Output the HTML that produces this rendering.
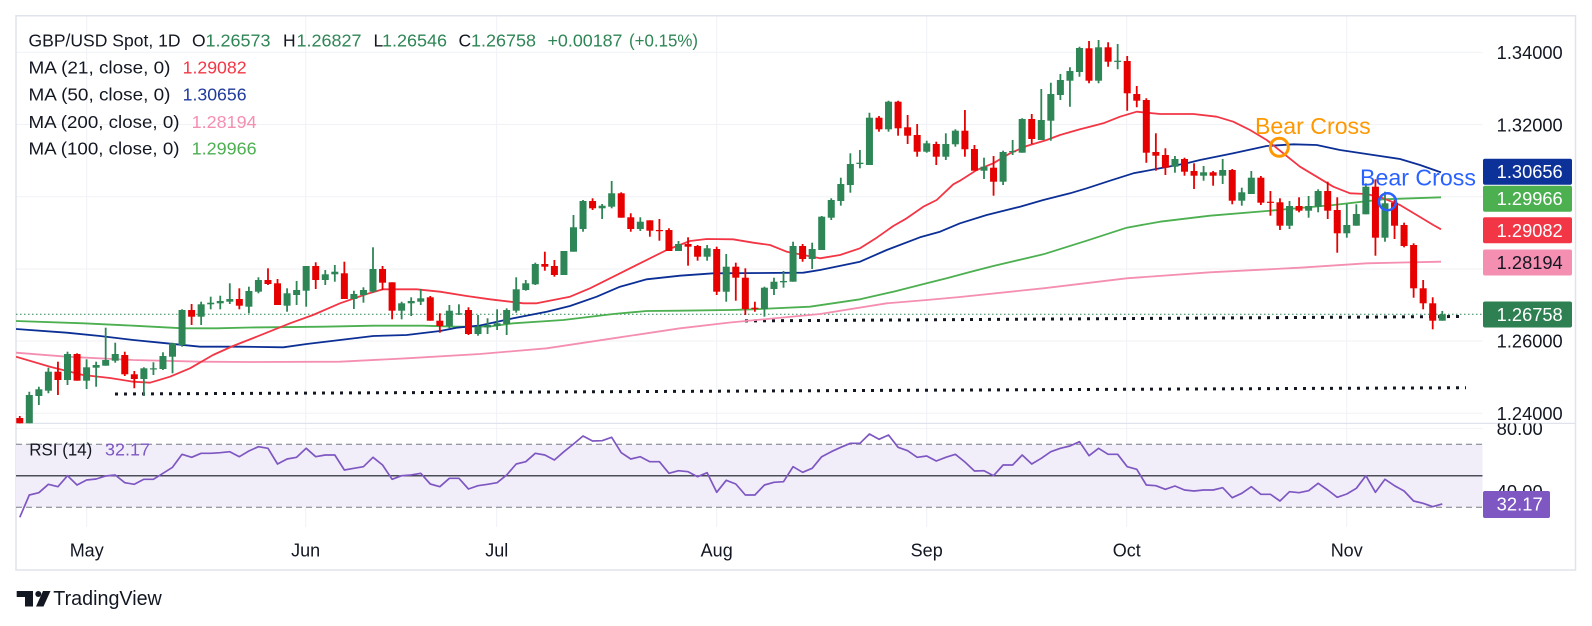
<!DOCTYPE html>
<html><head><meta charset="utf-8"><style>
html,body{margin:0;padding:0;background:#fff;}
svg{display:block;font-family:"Liberation Sans",Arial,sans-serif;}
</style></head><body>
<svg id="s" xmlns="http://www.w3.org/2000/svg" width="1592" height="626" viewBox="0 0 1592 626">
<defs>
<clipPath id="cp"><rect x="16" y="16" width="1466.5" height="407.3"/></clipPath>
<clipPath id="cr"><rect x="16" y="423.5" width="1466.5" height="103.5"/></clipPath>
<clipPath id="ca"><rect x="1483" y="423.5" width="92" height="103.5"/></clipPath>
</defs>
<rect x="0" y="0" width="1592" height="626" fill="#fff"/>
<!-- grid -->
<g stroke="#f0f2f6" stroke-width="1">
<line x1="16" x2="1482.5" y1="52.2" y2="52.2"/>
<line x1="16" x2="1482.5" y1="124.5" y2="124.5"/>
<line x1="16" x2="1482.5" y1="196.7" y2="196.7"/>
<line x1="16" x2="1482.5" y1="269" y2="269"/>
<line x1="16" x2="1482.5" y1="341" y2="341"/>
<line x1="16" x2="1482.5" y1="413.3" y2="413.3"/>
<line x1="16" x2="1482.5" y1="428.6" y2="428.6"/>
<line x1="16" x2="1482.5" y1="491.6" y2="491.6"/>
<line x1="86.7" x2="86.7" y1="16" y2="527"/>
<line x1="305.7" x2="305.7" y1="16" y2="527"/>
<line x1="496.7" x2="496.7" y1="16" y2="527"/>
<line x1="716.7" x2="716.7" y1="16" y2="527"/>
<line x1="926.7" x2="926.7" y1="16" y2="527"/>
<line x1="1126.7" x2="1126.7" y1="16" y2="527"/>
<line x1="1346.7" x2="1346.7" y1="16" y2="527"/>
</g>
<!-- frame -->
<rect x="16" y="15.75" width="1559.5" height="554.25" fill="none" stroke="#e0e3eb" stroke-width="1.5"/>
<line x1="16" x2="1576" y1="423.4" y2="423.4" stroke="#e0e3eb" stroke-width="1.2"/>

<!-- price pane -->
<g clip-path="url(#cp)">
<line x1="16" x2="1482" y1="314.3" y2="314.3" stroke="#2e8555" stroke-width="1" stroke-dasharray="1.5 2.5"/>
<line x1="115" y1="394" x2="1466" y2="387.7" stroke="#131722" stroke-width="3" stroke-dasharray="3 6"/>
<line x1="745" y1="320.9" x2="1460" y2="316.5" stroke="#131722" stroke-width="3" stroke-dasharray="3 6"/>
<g id="ma" fill="none" stroke-width="1.8" stroke-linejoin="round"></g>
<g id="candles"></g>
<circle cx="1279.3" cy="147.3" r="9" fill="none" stroke="#ff9800" stroke-width="3"/>
<circle cx="1387.5" cy="201.7" r="8.5" fill="none" stroke="#2962ff" stroke-width="2.5"/>
</g>
<text x="1255" y="134" font-size="23" fill="#ff9800" textLength="115.7" lengthAdjust="spacingAndGlyphs">Bear Cross</text>
<text x="1360" y="185.7" font-size="23" fill="#2962ff" textLength="116" lengthAdjust="spacingAndGlyphs">Bear Cross</text>

<!-- RSI pane -->
<g clip-path="url(#cr)">
<rect x="16" y="444.3" width="1466.5" height="63" fill="#f2eef9"/>
<line x1="16" x2="1482.5" y1="444.3" y2="444.3" stroke="#787b86" stroke-width="1" stroke-dasharray="6 4"/>
<line x1="16" x2="1482.5" y1="507.3" y2="507.3" stroke="#787b86" stroke-width="1" stroke-dasharray="6 4"/>
<line x1="16" x2="1482.5" y1="475.8" y2="475.8" stroke="#131722" stroke-width="1.2"/>
<polyline id="rsi" fill="none" stroke="#7e57c2" stroke-width="1.7" stroke-linejoin="round"/>
</g>

<!-- legend -->
<g font-size="17.5" fill="#131722">
<text x="28.5" y="46.6" textLength="152" lengthAdjust="spacingAndGlyphs">GBP/USD Spot, 1D</text>
<text x="192" y="46.6">O</text>
<text x="205.5" y="46.6" fill="#2e8555" textLength="65" lengthAdjust="spacingAndGlyphs">1.26573</text>
<text x="283" y="46.6">H</text>
<text x="296.5" y="46.6" fill="#2e8555" textLength="65" lengthAdjust="spacingAndGlyphs">1.26827</text>
<text x="373.5" y="46.6">L</text>
<text x="382" y="46.6" fill="#2e8555" textLength="65" lengthAdjust="spacingAndGlyphs">1.26546</text>
<text x="458.5" y="46.6">C</text>
<text x="471" y="46.6" fill="#2e8555" textLength="65" lengthAdjust="spacingAndGlyphs">1.26758</text>
<text x="547.5" y="46.6" fill="#2e8555" textLength="75" lengthAdjust="spacingAndGlyphs">+0.00187</text>
<text x="629" y="46.6" fill="#2e8555" textLength="69" lengthAdjust="spacingAndGlyphs">(+0.15%)</text>

<text x="28.5" y="73.6" textLength="142" lengthAdjust="spacingAndGlyphs">MA (21, close, 0)</text>
<text x="182.6" y="73.6" fill="#f23645" textLength="64" lengthAdjust="spacingAndGlyphs">1.29082</text>
<text x="28.5" y="100.6" textLength="142" lengthAdjust="spacingAndGlyphs">MA (50, close, 0)</text>
<text x="182.6" y="100.6" fill="#1e3a9c" textLength="64" lengthAdjust="spacingAndGlyphs">1.30656</text>
<text x="28.5" y="128" textLength="151" lengthAdjust="spacingAndGlyphs">MA (200, close, 0)</text>
<text x="191.7" y="128" fill="#f48fb1" textLength="65" lengthAdjust="spacingAndGlyphs">1.28194</text>
<text x="28.5" y="154.6" textLength="151" lengthAdjust="spacingAndGlyphs">MA (100, close, 0)</text>
<text x="191.7" y="154.6" fill="#4caf50" textLength="65" lengthAdjust="spacingAndGlyphs">1.29966</text>

<text x="29.3" y="455.6" textLength="63" lengthAdjust="spacingAndGlyphs">RSI (14)</text>
<text x="105" y="455.6" fill="#7e57c2" textLength="45" lengthAdjust="spacingAndGlyphs">32.17</text>
</g>

<!-- price axis -->
<g font-size="18" fill="#131722">
<text x="1496.7" y="59.2" textLength="66" lengthAdjust="spacingAndGlyphs">1.34000</text>
<text x="1496.7" y="131.3" textLength="66" lengthAdjust="spacingAndGlyphs">1.32000</text>
<text x="1496.7" y="347.5" textLength="66" lengthAdjust="spacingAndGlyphs">1.26000</text>
<text x="1496.7" y="419.8" textLength="66" lengthAdjust="spacingAndGlyphs">1.24000</text>
<g clip-path="url(#ca)">
<text x="1496.7" y="435" textLength="46" lengthAdjust="spacingAndGlyphs">80.00</text>
<text x="1496.7" y="498" textLength="46" lengthAdjust="spacingAndGlyphs">40.00</text>
</g>
</g>
<g font-size="18">
<rect x="1483" y="158.7" width="89" height="26" rx="2" fill="#0c3299"/>
<text x="1496.7" y="178.2" fill="#fff" textLength="66" lengthAdjust="spacingAndGlyphs">1.30656</text>
<rect x="1483" y="185.7" width="89" height="26" rx="2" fill="#4caf50"/>
<text x="1496.7" y="205.2" fill="#fff" textLength="66" lengthAdjust="spacingAndGlyphs">1.29966</text>
<rect x="1483" y="217.3" width="89" height="26" rx="2" fill="#f23645"/>
<text x="1496.7" y="236.8" fill="#fff" textLength="66" lengthAdjust="spacingAndGlyphs">1.29082</text>
<rect x="1483" y="249.5" width="89" height="26" rx="2" fill="#f48fb1"/>
<text x="1496.7" y="269" fill="#131722" textLength="66" lengthAdjust="spacingAndGlyphs">1.28194</text>
<rect x="1483" y="301.5" width="89" height="26" rx="2" fill="#2e7f52"/>
<text x="1496.7" y="321" fill="#fff" textLength="66" lengthAdjust="spacingAndGlyphs">1.26758</text>
<rect x="1483" y="491" width="67" height="27" rx="2" fill="#7e57c2"/>
<text x="1496.7" y="510.7" fill="#fff" textLength="46" lengthAdjust="spacingAndGlyphs">32.17</text>
</g>

<!-- time axis -->
<g font-size="18" fill="#131722" text-anchor="middle">
<text x="86.7" y="556.5">May</text>
<text x="305.7" y="556.5">Jun</text>
<text x="496.7" y="556.5">Jul</text>
<text x="716.7" y="556.5">Aug</text>
<text x="926.7" y="556.5">Sep</text>
<text x="1126.7" y="556.5">Oct</text>
<text x="1346.7" y="556.5">Nov</text>
</g>

<!-- logo -->
<g fill="#131722">
<rect x="16.7" y="591" width="16.3" height="6"/>
<rect x="25" y="591" width="8" height="15.5"/>
<circle cx="38.3" cy="594" r="3"/>
<polygon points="43,591 50.5,591 43.5,606.5 36,606.5"/>
</g>
<text x="53.3" y="605" font-size="20" fill="#131722" textLength="108.5" lengthAdjust="spacingAndGlyphs">TradingView</text>
</svg>
<script>
(function(){
var NS="http://www.w3.org/2000/svg";
var D=[
[418,416,440,425],[430,391.7,440,395],[396,386.7,405,389.3],[390.7,367.7,393.3,371.7],[371.7,361.7,395,380],
[380,351.7,385,354],[354,353.3,380.7,380.7],[380.7,359.3,389,367.3],[367.7,361.7,386.7,365],[365.7,327.7,365.7,360],
[360.7,342.7,362.7,354],[355,351.7,376,374.3],[374.3,371,388.3,379],[379,367.3,396,368.3],[369.3,362.3,375,368.3],
[369,352.3,370,356],[356.7,342.7,373.3,343.3],[345,309.3,346.7,310],[310,304,325,316.7],[316.7,301.7,325,304.3],
[304.3,296.7,309.3,302.7],[303.3,295.7,309.3,301],[301.7,283.3,304,299],[299,288.3,309.3,305.7],[306.7,286.7,313.3,291],
[291.7,277.3,293.3,280],[280,268.3,285,284],[283.3,279,305,305],[305.7,288.3,311.7,293.3],[295,281,305,290],
[290.7,266,306.7,266],[266,262.3,289,280],[280,270,285,274.3],[274.3,265,281.7,271.7],[273.3,261.7,299,299],
[299,290.7,309,294],[295,287.3,302.7,290],[291.7,247.3,292.7,269],[269,266,290,282.7],[282.3,282.3,319.3,310.7],
[310.7,301.7,319.3,303.3],[303.3,297.3,316,301],[301.7,289,305,298.3],[297.3,296,320.7,320.7],[320.7,313.3,332.7,326],
[326,305,328.3,310.7],[314,304.3,315,313.3],[310,307.3,335,334],[334,315,335.7,326.7],[327.3,318.3,334,325],
[326,309.3,330,323.3],[324,308.3,335,310],[310.7,277.3,312.7,289.3],[290,280,290.7,283.3],[284.3,262.7,285,264],
[264,251.7,270.7,266.7],[266,260,276.7,275],[275,251,275,251],[251.7,215,251.7,227.3],[229,200,231.7,201],
[201,198.3,210,208.3],[208.3,204,219,205.7],[206.7,181,208.3,193.3],[193.3,192.3,217.7,217.7],[217.3,213.3,231.7,229],
[229,217.3,231,221.7],[220.3,220.3,236.7,230.7],[230,219,240.7,230.7],[230,228.3,251,251],[251,241,251,244],
[244,237.3,265.7,246.7],[246,245,260.7,256.7],[256.7,245,260.7,248.3],[249,246.7,295,291.7],[291.7,254,301.7,266.7],
[266.7,262.7,300.7,277.7],[277.7,268.3,315,309],[307.7,301.7,311.7,308.7],[309,286.7,316.7,287.7],[289,277.7,295,281.7],
[282.3,271,287.7,281],[281.7,241.7,281.7,246],[246,244,261.7,259],[259,242.7,269,249],[250,216,250,216.7],
[217.7,198.3,220,200],[201,177.7,205.7,184],[185,153.3,192.7,164],[164,150,168.3,162.7],[165,112.7,165,117.7],
[117.7,116,131.7,129.3],[129.3,100.7,131.7,101.7],[101.7,100.7,135.7,128.3],[127.3,115,144,135.7],[135,124,156.7,151.7],
[151.7,140.7,152.7,143.3],[144,141.7,165,156.7],[156.7,133.3,160,144],[144.3,129.3,146.7,130.7],[130.7,110,156.7,149.3],
[149,145,170.7,170.7],[170.7,157.7,179,166.7],[167.7,156,195.7,181.7],[181.7,150.7,185,152],[152,140,155,151],
[152.7,118.3,152.7,119],[119,114,144,139],[140,89,140,120],[120.7,82.7,140.7,94],[95,74,100,80],
[80.7,67.3,106.7,71],[72,46.7,76.7,48],[48.3,41,83.3,80.7],[80.7,40,83.3,47.3],[47.3,42.3,66.7,61.7],
[61.7,44,69.3,60.7],[61,56,110.7,93.3],[94,86,107.3,100.7],[100,98.3,162.7,152.7],[152,133.3,170.7,155.7],
[155,148.3,175,167.7],[166.7,156,172.7,159],[159,157.7,175.7,171.7],[171,163.3,189,175.7],[175.7,166,180.7,172.3],
[172.3,171,185.7,175.7],[175.7,159,184,170],[170,169,204.3,200.7],[200.7,187.7,205.7,192.3],[194,171,194,177.7],
[177.7,176,205,202.7],[201.7,191,215.7,202.7],[202.3,198.3,230,225.7],[225.7,201,229,206],[206,197.3,212.3,210.7],
[210.7,196,217.7,206],[206.7,189.3,212.3,191],[191,181.7,219,210.7],[210,197.3,252.7,233.3],[233.3,204,237.7,225],
[225.7,204.3,225.7,214],[214.3,183.3,214.3,186.7],[186.7,179.3,255.7,237.7],[237.7,191.7,241.7,203.3],[202.7,200,239,225.7],
[225,222.7,247.3,246],[245,243.3,297.7,288.3],[288.3,280,309.3,303.3],[303.3,297.3,329.3,320.7],[320.7,311,320.7,314.3]
];
var R=[517.3,495,492.7,484.3,486.7,475.7,485,480,479,476,475,482.7,484.3,479.3,479.3,473.3,467.3,454.3,457.3,453.3,453.3,452.7,451.7,456.7,451,
446.7,448.3,464,459,457.3,448.3,456.7,455,455,470,468.3,466.7,457.3,465,479.3,475.7,475,473.3,484,486.7,478.3,478.3,489,485.7,484.3,
482.7,475,464,461.7,453.3,455,460,451.7,444,436,441,440.7,437.3,452.7,459,456.7,461.7,461.7,473.3,470.7,471.7,476.7,472.7,492.3,480.3,
484,495,495,485,482.3,481.7,466.7,472.3,468.3,456.7,451.7,447.3,443.3,443.3,434,439.3,435,447.3,450.7,457.3,456,461,457.3,454.3,462,
471,470.7,475.7,465,465,455,464,458.3,451.7,448.3,446,441.7,455.7,448.3,454.3,454.3,466.7,469.3,485,485.7,489.3,486,490,491,490,
490,487.7,497.7,493.3,486.7,494.3,494.3,501,491.7,492.7,490.7,483.3,490,497.3,494,488.3,475.7,492.3,479.3,485.7,491,501,503.3,506.7,503.9];
var x0=19.76,dx=9.547;
var g=document.getElementById('candles');
function el(n,a){var e=document.createElementNS(NS,n);for(var k in a)e.setAttribute(k,a[k]);return e;}
for(var i=0;i<D.length;i++){
 var c=D[i],x=x0+i*dx,o=c[0],h=c[1],l=c[2],cl=c[3];
 var col=(cl<=o)?'#2e8555':'#e60000';
 var top=Math.min(o,cl),bh=Math.max(1.2,Math.abs(o-cl));
 g.appendChild(el('line',{x1:x,x2:x,y1:h,y2:l,stroke:col,'stroke-width':1.8}));
 g.appendChild(el('rect',{x:x-3.5,y:top,width:7,height:bh,fill:col}));
}
var pts=[];for(var j=0;j<R.length;j++){pts.push((x0+j*dx).toFixed(2)+','+R[j]);}
document.getElementById('rsi').setAttribute('points',pts.join(' '));
var MA={
'#f48fb1':[[16,352.7],[66.7,356.7],[133.3,360],[200,361.7],[250,362],[340,361.7],[406.7,358.3],[480,354],[546.7,348.3],[613.3,338.3],[680,328.3],[730,322.5],[820,314],[886.7,303.3],[926.7,300],[960,297],[1043.3,288.3],[1126.7,278.3],[1210,272.3],[1300,267.7],[1366.7,263.3],[1441,261.7]],
'#4caf50':[[16,321],[83.3,323.3],[133.3,325.7],[183.3,328.3],[216.7,328.3],[250,327.5],[323.3,326.7],[373.3,325.7],[423.3,325.7],[456.7,326.7],[490,326.5],[513.3,323.3],[563.3,320],[613.3,314],[646.7,311],[680,310.7],[730,310],[753.3,309.3],[810,306.7],[860,299.3],[893.3,291.7],[926.7,283.3],[946.7,278.3],[970,272],[993.3,266],[1043.3,254.3],[1086.7,240.7],[1126.7,227.7],[1160,221.7],[1210,215.7],[1266.7,211],[1333.3,205],[1383.3,199.3],[1441,197.3]],
'#0c2f96':[[16,329],[66.7,332.7],[100,336],[133.3,340],[166.7,343.3],[200,346.7],[240,346.7],[283.3,347.3],[306.7,344],[340,340],[373.3,336],[406.7,335],[440,331],[456.7,327.7],[480,325.5],[513.3,318.3],[546.7,311.7],[570,306],[596.7,296.7],[620,286.7],[646.7,279.3],[680,275.7],[713.3,273.3],[803.3,272.7],[820,270],[860,261.7],[886.7,250],[920,237.3],[940,231.7],[960,223.3],[986.7,215],[1020,206.7],[1043.3,200],[1070,193.3],[1086.7,188.3],[1110,180.7],[1133.3,173.3],[1160,168.3],[1186.7,163.3],[1200,160],[1233.3,153.3],[1266.7,146],[1293.3,144.3],[1316.7,145],[1340,150],[1373.3,155],[1400,159],[1420,165],[1441,172.4]],
'#f23645':[[16,356.7],[50,366.7],[83,375],[110,378],[133,381.7],[150,382.7],[170,376.7],[190,368.3],[213,355],[233,346],[256.7,336.7],[290,323.3],[313,315],[340,303.3],[366.7,294],[383,289.3],[416.7,289.3],[440,291.7],[466.7,296],[490,299.3],[523.3,303.3],[536.7,303.3],[570,296.7],[590,288.3],[613.3,276.7],[640,263.3],[666.7,250],[690,241],[706.7,239],[733,239.3],[753.3,242.7],[770,245],[786.7,251.7],[820,258.3],[840,255],[860,248.3],[876.7,237.7],[893.3,226],[906.7,218.3],[923.3,206.7],[936.7,200],[953.3,184.3],[960,180.7],[976.7,170],[993.3,163.3],[1010,153.3],[1026.7,146],[1046.7,140],[1060,135],[1080,129.3],[1103.3,123.3],[1120,116.7],[1136.7,111.7],[1160,114],[1193.3,114],[1216.7,116.7],[1233.3,121.7],[1250,130],[1266.7,140],[1283.3,153.3],[1300,166.7],[1316.7,176.7],[1333.3,186.7],[1350,193.3],[1366.7,194],[1383.3,198.3],[1400,205],[1416.7,215],[1433.3,225],[1441,229.3]]
};
var mg=document.getElementById('ma');
for(var k in MA){
 mg.appendChild(el('polyline',{points:MA[k].map(function(p){return p[0]+','+p[1];}).join(' '),stroke:k,fill:'none','stroke-width':1.8}));
}
})();
</script>
</body></html>
